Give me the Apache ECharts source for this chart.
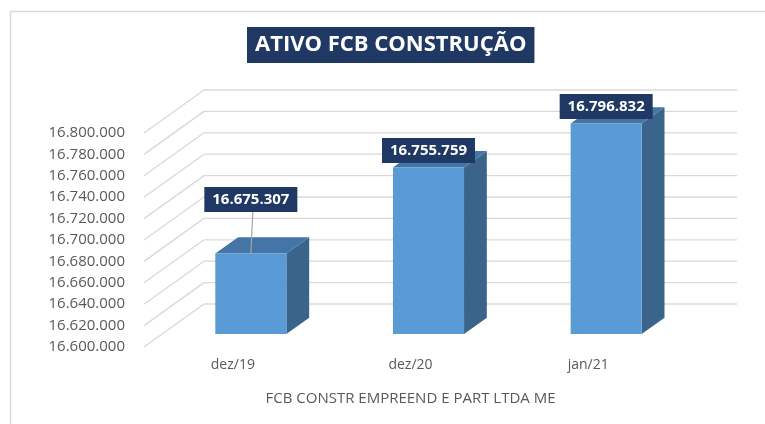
<!DOCTYPE html>
<html>
<head>
<meta charset="utf-8">
<script src="https://cdn.jsdelivr.net/npm/echarts@6/dist/echarts.min.js"></script>
<style>html,body{margin:0;padding:0;background:#fff;}#chart{width:765px;height:424px;}</style>
</head>
<body>
<div id="chart"></div>
<script>
const titleText = 'ATIVO FCB CONSTRUÇÃO';
const axisName = 'FCB CONSTR EMPREEND E PART LTDA ME';
const categories = ['dez/19', 'dez/20', 'jan/21'];
const values = [16675307, 16755759, 16796832];
const yTicks = [16600000, 16620000, 16640000, 16660000, 16680000, 16700000, 16720000, 16740000, 16760000, 16780000, 16800000];
const yMin = 16600000, yMax = 16800000, yStep = 20000;

function fmtBR(v) {
  return String(Math.round(v)).replace(/\B(?=(\d{3})+(?!\d))/g, '.');
}

const DX = 60, DY = 43;       // depth of the 3D box (pixels)
const F1 = 0.30, F2 = 0.68;   // bar front/back depth fractions
const FONT = 'Open Sans';

const chart = echarts.init(document.getElementById('chart'), null, {renderer: 'canvas'});

chart.setOption({
  animation: false,
  backgroundColor: '#ffffff',
  title: {
    text: titleText,
    left: 247, top: 27,
    backgroundColor: '#1f3864',
    padding: [5, 8, 5, 8],
    textStyle: {color: '#ffffff', fontFamily: FONT, fontWeight: 'bold', fontSize: 22, lineHeight: 26}
  },
  graphic: [{
    type: 'rect', left: 8, top: 9, silent: true,
    shape: {width: 800, height: 500},
    style: {fill: 'none', stroke: '#d9d9d9', lineWidth: 1.5}
  }],
  grid: {left: 144, right: 88, top: 133, bottom: 77},
  xAxis: {
    type: 'category', data: categories,
    axisLine: {show: false}, axisTick: {show: false}, splitLine: {show: false},
    axisLabel: {color: '#595959', fontFamily: FONT, fontSize: 14, margin: 11},
    name: axisName, nameLocation: 'middle', nameGap: 44,
    nameTextStyle: {color: '#595959', fontFamily: FONT, fontSize: 15}
  },
  yAxis: {
    type: 'value', min: yMin, max: yMax, interval: yStep,
    axisLine: {show: false}, axisTick: {show: false}, splitLine: {show: false},
    axisLabel: {color: '#595959', fontFamily: FONT, fontSize: 15, margin: 19, formatter: fmtBR}
  },
  series: [
    {
      type: 'custom', z: 1, silent: true,
      data: yTicks.map(t => [0, t]),
      encode: {x: 0, y: 1},
      renderItem: function (params, api) {
        const cs = params.coordSys;
        const y = api.coord([0, api.value(1)])[1];
        const x0 = cs.x, x1 = cs.x + cs.width;
        const st = {stroke: '#d9d9d9', lineWidth: 1.3};
        return {type: 'group', children: [
          {type: 'line', shape: {x1: x0, y1: y, x2: x0 + DX, y2: y - DY}, style: st},
          {type: 'line', shape: {x1: x0 + DX, y1: y - DY, x2: x1 + DX, y2: y - DY}, style: st}
        ]};
      }
    },
    {
      type: 'custom', z: 2, silent: true,
      data: values.map((v, i) => [i, v]),
      encode: {x: 0, y: 1},
      renderItem: function (params, api) {
        const idx = api.value(0), v = api.value(1);
        const base = api.coord([idx, yMin]);
        const top = api.coord([idx, v]);
        const bw = api.size([1, 0])[0] * 0.4;
        const ox1 = DX * F1, oy1 = DY * F1;
        const dx = DX * (F2 - F1), dy = DY * (F2 - F1);
        const fl = base[0] + ox1 - bw / 2, fr = fl + bw;
        const ft = top[1] - oy1, fb = base[1] - oy1;
        const cx = base[0] + ox1;
        const lift = idx === 0 ? 54 : 17;
        const lw = 93, lh = 25;
        const lcy = ft - lift;
        const children = [
          {type: 'polygon', shape: {points: [[fr, ft], [fr + dx, ft - dy], [fr + dx, fb - dy], [fr, fb]]},
            style: {fill: '#3a6489'}},
          {type: 'polygon', shape: {points: [[fl, ft], [fr, ft], [fr + dx, ft - dy], [fl + dx, ft - dy]]},
            style: {fill: '#4475a6'}},
          {type: 'rect', shape: {x: fl, y: ft, width: bw, height: fb - ft},
            style: {fill: '#5b9bd5'}}
        ];
        if (lift > 30) {
          children.push({type: 'line', shape: {x1: cx + 2, y1: lcy + lh / 2, x2: cx, y2: ft},
            style: {stroke: '#a6a6a6', lineWidth: 1.2}});
        }
        children.push({type: 'rect', shape: {x: cx - lw / 2, y: lcy - lh / 2, width: lw, height: lh},
          style: {fill: '#1f3864'}});
        children.push({type: 'text', style: {x: cx, y: lcy, text: fmtBR(v), fill: '#ffffff',
          font: 'bold 15px "' + FONT + '"', align: 'center', verticalAlign: 'middle'}});
        return {type: 'group', children: children};
      }
    }
  ]
});
</script>
</body>
</html>
